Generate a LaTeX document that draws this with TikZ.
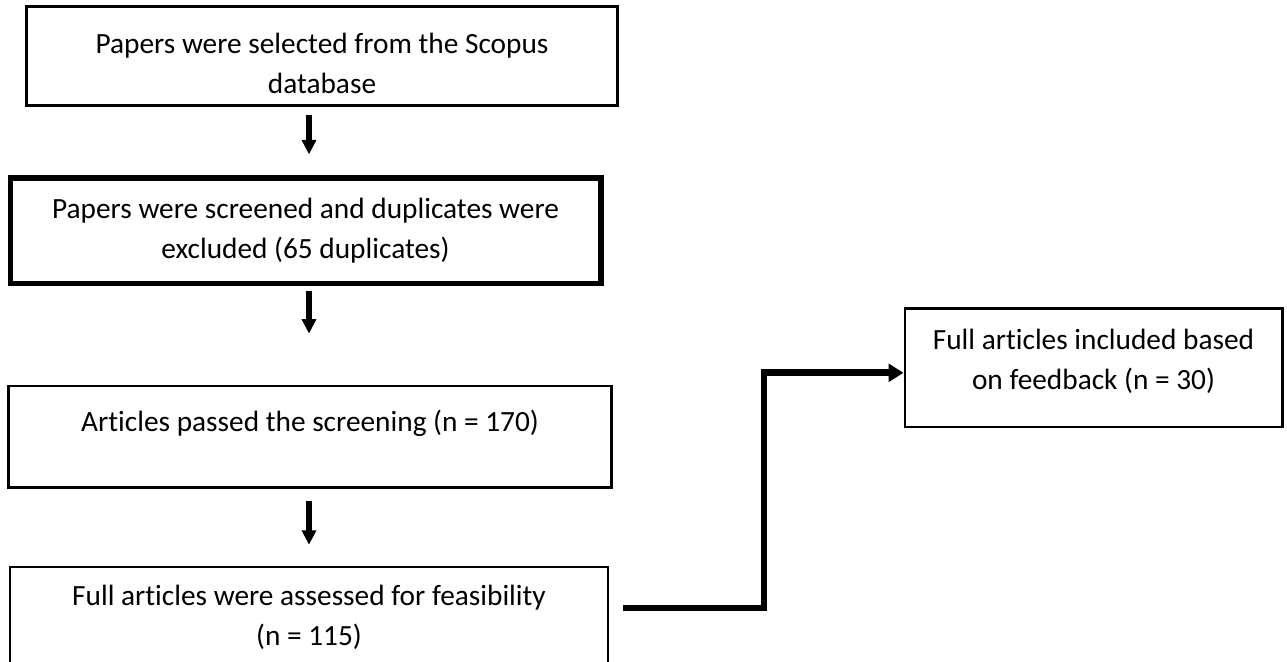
\documentclass[tikz,border=0pt]{standalone}
\usepackage{fontspec}
\setmainfont{Carlito}[Ligatures=NoCommon]
\usetikzlibrary{arrows.meta}

\begin{document}
\begin{tikzpicture}[x=0.375pt, y=-0.375pt,
	stage/.style={draw, line width=1.1pt, align=center, inner sep=0pt,
		font=\fontsize{11}{15}\selectfont},
	down/.style={line width=2pt, -{Triangle[length=5.4pt, width=5.2pt]}},
	feedback/.style={line width=2.6pt, -{Triangle[length=5.6pt, width=6.6pt]}}]
	\clip (0,0) rectangle (1287,661);
	\node[stage, minimum width=221.3pt, minimum height=36.8pt] (selected) at (322,56)
		{\strut\\[-12pt]Papers were selected from the Scopus\\database};
	\node[stage, line width=1.9pt, minimum width=221.6pt, minimum height=39.4pt] (screened) at (305.5,230.5)
		{Papers were screened and duplicates were\\excluded (65 duplicates)};
	\node[stage, minimum width=225.8pt, minimum height=37.9pt] (passed) at (310,436.5)
		{Articles passed the screening (n = 170)\\[-8pt]\strut};
	\node[stage, line width=0.9pt, minimum width=224.3pt, minimum height=37.5pt] (assessed) at (309,617)
		{Full articles were assessed for feasibility\\(n = 115)};
	\node[stage, minimum width=141.4pt, minimum height=44.6pt] (included) at (1093.5,367.5)
		{Full articles included based\\on feedback (n = 30)\\[-13pt]\strut};
	% arrows down the main column
	\draw[down, shorten <=3pt, shorten >=7.9pt] (selected.south -| assessed) -- (screened.north -| assessed);
	\draw[down, shorten <=1.9pt, shorten >=19.1pt] (screened.south -| assessed) -- (passed.north -| assessed);
	\draw[down, shorten <=4.5pt, shorten >=7.9pt] (passed.south -| assessed) -- (assessed.north);
	% feedback branch
	\coordinate (fb) at (623,608);
	\coordinate (bend) at (764,608);
	\draw[feedback] (fb) -- (bend) |- ([yshift=-2pt]included.west);
	%\node (x) at (0,0) [circle, draw] {};
\end{tikzpicture}
\end{document}
